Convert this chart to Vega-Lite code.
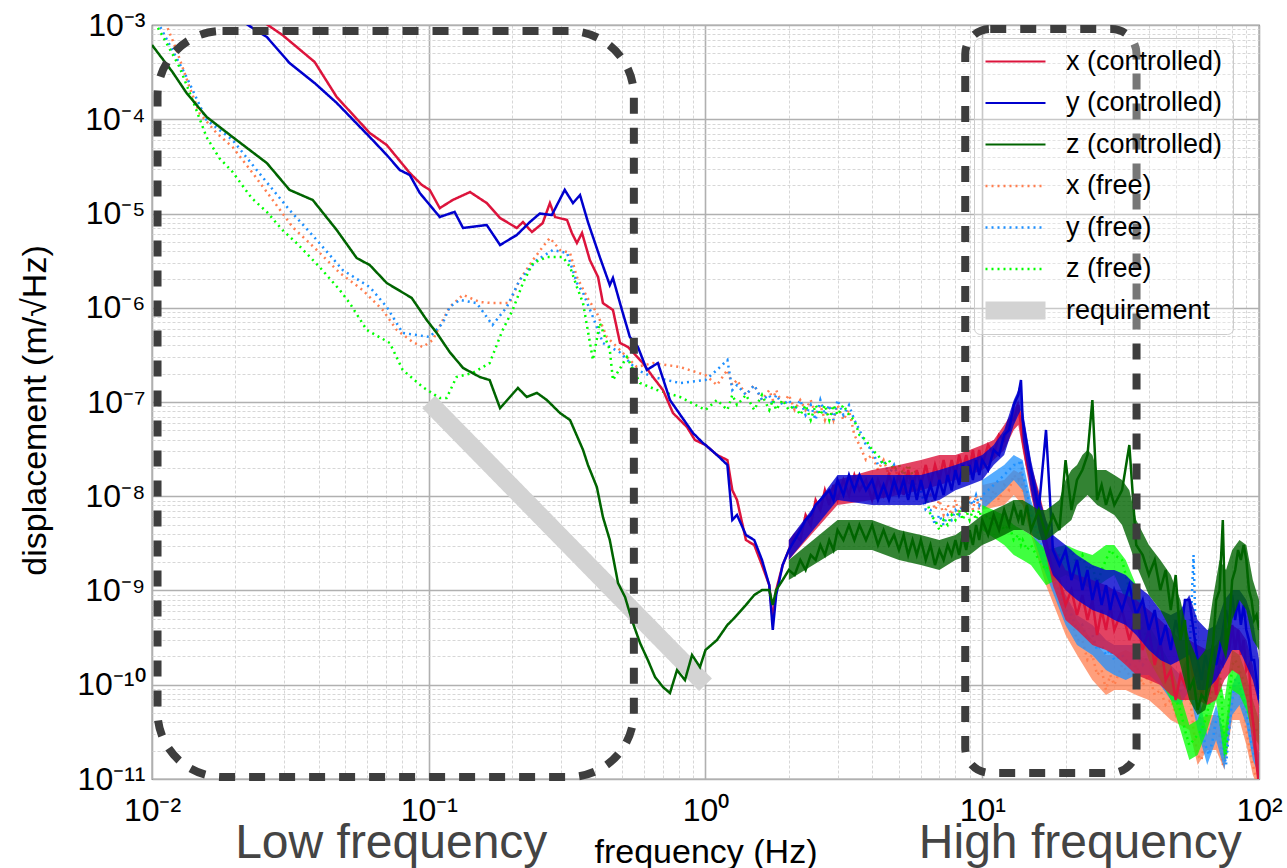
{
"$schema": "https://vega.github.io/schema/vega-lite/v6.json",
"width": 1107, "height": 754,
"autosize": {"type": "none"},
"padding": {"left": 152, "top": 25, "right": 28, "bottom": 89},
"background": "white",
"config": {
 "font": "Liberation Sans",
 "view": {"stroke": "#4a4a4a", "strokeWidth": 1.2},
 "legend": {"labelFontSize": 27, "labelColor": "#000", "labelLimit": 400, "symbolType": "M-1.714,0H6.857", "symbolSize": 196, "labelOffset": 55, "padding": 10, "rowPadding": 13.5, "strokeColor": "#cccccc", "fillColor": "rgba(255,255,255,0.3)", "cornerRadius": 6}
},
"encoding": {
 "x": {"field": "f", "type": "quantitative", "scale": {"type": "log", "domain": [0.01, 100], "nice": false},
  "axis": {"values": [0.01,0.02,0.03,0.04,0.05,0.06,0.07,0.08,0.09,0.1,0.2,0.3,0.4,0.5,0.6,0.7,0.8,0.9,1,2,3,4,5,6,7,8,9,10,20,30,40,50,60,70,80,90,100],
   "labelExpr": "abs(log(datum.value)/LN10 - round(log(datum.value)/LN10)) > 0.01 ? '' : ['10⁻²','10⁻¹','10⁰','10¹','10²'][round(log(datum.value)/LN10) + 2]",
   "grid": true,
   "gridColor": {"condition": {"test": "abs(log(datum.value)/LN10 - round(log(datum.value)/LN10)) < 0.01", "value": "#b0b0b0"}, "value": "#d2d2d2"},
   "gridWidth": {"condition": {"test": "abs(log(datum.value)/LN10 - round(log(datum.value)/LN10)) < 0.01", "value": 1.6}, "value": 0.9},
   "gridDash": {"condition": {"test": "abs(log(datum.value)/LN10 - round(log(datum.value)/LN10)) < 0.01", "value": [1, 0]}, "value": [3, 2]},
   "ticks": false, "tickSize": 0, "domain": false, "labelFontSize": 32, "labelColor": "#000", "labelPadding": 41, "labelBaseline": "alphabetic", "labelFlush": false, "labelOverlap": false, "labelBound": false,
   "title": "frequency (Hz)", "titleFontSize": 34, "titleFontWeight": "normal", "titleColor": "#000", "titleY": 83, "titleBaseline": "alphabetic"}},
 "y": {"field": "d", "type": "quantitative", "scale": {"type": "log", "domain": [1e-11, 1e-3], "nice": false},
  "axis": {"values": [1e-11,2e-11,3e-11,4e-11,5e-11,6e-11,7e-11,8e-11,9e-11,1e-10,2e-10,3e-10,4e-10,5e-10,6e-10,7e-10,8e-10,9e-10,1e-9,2e-9,3e-9,4e-9,5e-9,6e-9,7e-9,8e-9,9e-9,1e-8,2e-8,3e-8,4e-8,5e-8,6e-8,7e-8,8e-8,9e-8,1e-7,2e-7,3e-7,4e-7,5e-7,6e-7,7e-7,8e-7,9e-7,1e-6,2e-6,3e-6,4e-6,5e-6,6e-6,7e-6,8e-6,9e-6,1e-5,2e-5,3e-5,4e-5,5e-5,6e-5,7e-5,8e-5,9e-5,1e-4,2e-4,3e-4,4e-4,5e-4,6e-4,7e-4,8e-4,9e-4,1e-3],
   "labelExpr": "abs(log(datum.value)/LN10 - round(log(datum.value)/LN10)) > 0.01 ? '' : ['10⁻¹¹','10⁻¹⁰','10⁻⁹','10⁻⁸','10⁻⁷','10⁻⁶','10⁻⁵','10⁻⁴','10⁻³'][round(log(datum.value)/LN10) + 11]",
   "grid": true,
   "gridColor": {"condition": {"test": "abs(log(datum.value)/LN10 - round(log(datum.value)/LN10)) < 0.01", "value": "#b0b0b0"}, "value": "#d2d2d2"},
   "gridWidth": {"condition": {"test": "abs(log(datum.value)/LN10 - round(log(datum.value)/LN10)) < 0.01", "value": 1.6}, "value": 0.9},
   "gridDash": {"condition": {"test": "abs(log(datum.value)/LN10 - round(log(datum.value)/LN10)) < 0.01", "value": [1, 0]}, "value": [3, 2]},
   "ticks": false, "tickSize": 0, "domain": false, "labelFontSize": 32, "labelColor": "#000", "labelPadding": 7, "labelOverlap": false, "labelBound": false, "labelFlush": false,
   "title": "displacement (m/√Hz)", "titleFontSize": 34, "titleFontWeight": "normal", "titleColor": "#000", "titleX": -117, "titleY": 385, "titleAngle": 270, "titleBaseline": "middle"}}
},
"layer": [
 {"data": {"values": [{"f":0.1,"d":1e-7},{"f":1,"d":1e-10}]},
  "mark": {"type": "line", "strokeCap": "butt", "clip": true},
  "encoding": {
   "color": {"datum": "requirement", "type": "nominal", "scale": {"domain": ["x (controlled)","y (controlled)","z (controlled)","x (free)","y (free)","z (free)","requirement"], "range": ["#dc143c","#0000cd","#006400","#ff7f50","#1e90ff","#00ff00","#d3d3d3"]},
     "legend": {"title": null, "orient": "none", "legendX": 822, "legendY": 13,
       "encode": {"symbols": {"update": {
         "shape": {"signal": "datum.value == 'requirement' ? 'M-1.714,-1.29H6.857V1.29H-1.714Z' : 'M-1.714,0H6.857'"},
         "fill": {"signal": "datum.value == 'requirement' ? '#d3d3d3' : 'transparent'"},
         "strokeDash": {"signal": "(datum.value == 'x (free)' || datum.value == 'y (free)' || datum.value == 'z (free)') ? [2,4] : [1,0]"},
         "strokeWidth": {"signal": "datum.value == 'requirement' ? 0 : ((datum.value == 'x (free)' || datum.value == 'y (free)' || datum.value == 'z (free)') ? 2.6 : 2)"},
         "opacity": {"value": 1}}}}}},
   "strokeDash": {"datum": "requirement", "type": "nominal", "scale": {"domain": ["x (controlled)","y (controlled)","z (controlled)","x (free)","y (free)","z (free)","requirement"], "range": [[1,0],[1,0],[1,0],[2,4],[2,4],[2,4],[1,0]]}, "legend": null},
   "strokeWidth": {"datum": "requirement", "type": "nominal", "scale": {"type": "ordinal", "domain": ["x (controlled)","y (controlled)","z (controlled)","x (free)","y (free)","z (free)","requirement"], "range": [2,2,2,2.6,2.6,2.6,18]}, "legend": null}
  }},
 {"data": {"values": [{"f":10,"d":7.15e-9,"d2":1.32e-8},{"f":12,"d":8.08e-9,"d2":1.49e-8},{"f":13,"d":1.03e-8,"d2":1.9e-8},{"f":14,"d":8.08e-9,"d2":1.68e-8},{"f":15,"d":3.88e-9,"d2":8.08e-9},{"f":17,"d":1.14e-9,"d2":2.69e-9},{"f":20,"d":3.37e-10,"d2":8.96e-10},{"f":22,"d":2.07e-10,"d2":4.86e-10},{"f":25,"d":1.12e-10,"d2":2.98e-10},{"f":28,"d":7.79e-11,"d2":2.07e-10},{"f":30,"d":8.8e-11,"d2":2.07e-10},{"f":33,"d":8.8e-11,"d2":2.34e-10},{"f":36,"d":7.79e-11,"d2":2.07e-10},{"f":40,"d":6.89e-11,"d2":1.83e-10},{"f":44,"d":5.4e-11,"d2":1.27e-10},{"f":48,"d":4.23e-11,"d2":9.94e-11},{"f":52,"d":3.74e-11,"d2":8.8e-11},{"f":56,"d":3.31e-11,"d2":9.94e-11},{"f":60,"d":1.41e-11,"d2":4.23e-11},{"f":65,"d":2.03e-11,"d2":4.78e-11},{"f":70,"d":2.03e-11,"d2":4.78e-11},{"f":75,"d":1.25e-11,"d2":3.31e-11},{"f":80,"d":4.23e-11,"d2":9.94e-11},{"f":85,"d":4.23e-11,"d2":9.94e-11},{"f":90,"d":2.29e-11,"d2":5.4e-11},{"f":95,"d":1.1e-11,"d2":2.59e-11},{"f":100,"d":7.64e-12,"d2":1.25e-11}]},
  "mark": {"type": "area", "clip": true, "opacity": 0.75},
  "encoding": {"y2": {"field": "d2"}, "color": {"datum": "x (free)", "type": "nominal"}}},
 {"data": {"values": [{"f":0.01,"d":2.4e-3},{"f":0.01226,"d":5.43e-4},{"f":0.01366,"d":2.2e-4},{"f":0.01485,"d":1.16e-4},{"f":0.0171,"d":7.15e-5},{"f":0.01955,"d":5.07e-5},{"f":0.0231,"d":2.69e-5},{"f":0.0273,"d":1.39e-5},{"f":0.0322,"d":7.19e-6},{"f":0.0394,"d":4.1e-6},{"f":0.0477,"d":2.34e-6},{"f":0.0577,"d":1.54e-6},{"f":0.0682,"d":9.46e-7},{"f":0.0766,"d":5.81e-7},{"f":0.0875,"d":4.33e-7},{"f":0.0951,"d":3.83e-7},{"f":0.1034,"d":4.55e-7},{"f":0.1124,"d":7.41e-7},{"f":0.119,"d":1.02e-6},{"f":0.133,"d":1.37e-6},{"f":0.153,"d":1.15e-6},{"f":0.17,"d":1.12e-6},{"f":0.196,"d":1.12e-6},{"f":0.213,"d":1.97e-6},{"f":0.238,"d":3.21e-6},{"f":0.258,"d":4.41e-6},{"f":0.274,"d":5.5e-6},{"f":0.298,"d":4.1e-6},{"f":0.324,"d":3.81e-6},{"f":0.343,"d":2.12e-6},{"f":0.373,"d":1.3e-6},{"f":0.405,"d":8.8e-7},{"f":0.44,"d":4.89e-7},{"f":0.491,"d":3.56e-7},{"f":0.565,"d":2.35e-7},{"f":0.646,"d":2.59e-7},{"f":0.809,"d":2.35e-7},
  {"f":1,"d":1.93e-7},{"f":1.1,"d":1.51e-7},{"f":1.2,"d":2.19e-7},{"f":1.25,"d":1.51e-7},{"f":1.3,"d":1.71e-7},{"f":1.4,"d":1.19e-7},{"f":1.5,"d":1.51e-7},{"f":1.6,"d":1.05e-7},{"f":1.7,"d":1.34e-7},{"f":1.75,"d":1.05e-7},{"f":1.8,"d":1.34e-7},{"f":1.9,"d":9.29e-8},{"f":2,"d":1.19e-7},{"f":2.1,"d":8.23e-8},{"f":2.2,"d":1.05e-7},{"f":2.3,"d":8.23e-8},{"f":2.4,"d":1.05e-7},{"f":2.5,"d":7.28e-8},{"f":2.6,"d":9.29e-8},{"f":2.7,"d":6.44e-8},{"f":2.8,"d":9.29e-8},{"f":2.9,"d":6.44e-8},{"f":3,"d":9.29e-8},{"f":3.15,"d":6.44e-8},{"f":3.3,"d":8.23e-8},{"f":3.45,"d":4.47e-8},{"f":3.6,"d":3.5e-8},{"f":3.8,"d":2.42e-8},{"f":4,"d":2.74e-8},{"f":4.2,"d":1.9e-8},{"f":4.4,"d":2.42e-8},{"f":4.6,"d":1.68e-8},{"f":4.8,"d":2.15e-8},{"f":5,"d":1.49e-8},{"f":5.2,"d":1.9e-8},{"f":5.4,"d":1.32e-8},{"f":5.6,"d":1.68e-8},{"f":5.8,"d":1.16e-8},{"f":6,"d":1.32e-8},{"f":6.25,"d":9.12e-9},{"f":6.5,"d":1.03e-8},{"f":6.75,"d":7.15e-9},{"f":7,"d":9.12e-9},{"f":7.25,"d":6.33e-9},{"f":7.5,"d":8.08e-9},{"f":7.75,"d":6.33e-9},{"f":8,"d":9.12e-9},{"f":8.25,"d":6.33e-9},{"f":8.5,"d":9.12e-9},{"f":8.75,"d":7.15e-9},{"f":9,"d":1.03e-8},{"f":9.25,"d":7.15e-9},{"f":9.5,"d":1.03e-8},{"f":9.75,"d":7.15e-9},{"f":10,"d":1.03e-8},{"f":10.5,"d":8.08e-9},{"f":11,"d":1.16e-8},{"f":11.5,"d":9.12e-9},{"f":12,"d":1.32e-8},{"f":12.5,"d":1.16e-8},{"f":13,"d":1.68e-8},{"f":13.5,"d":1.49e-8},{"f":13.8,"d":1.9e-8},{"f":14,"d":1.16e-8},{"f":14.5,"d":9.12e-9},{"f":15,"d":5.6e-9},{"f":16,"d":3.43e-9},{"f":17,"d":1.86e-9},{"f":18,"d":1.14e-9},{"f":19,"d":8.96e-10},{"f":20,"d":5.5e-10},{"f":21,"d":4.86e-10},{"f":22,"d":2.98e-10},{"f":23,"d":2.98e-10},{"f":24,"d":1.83e-10},{"f":25,"d":2.07e-10},{"f":26,"d":1.27e-10},{"f":27,"d":1.43e-10},{"f":28,"d":8.8e-11},{"f":29,"d":1.27e-10},{"f":30,"d":9.94e-11},{"f":32,"d":1.62e-10},{"f":34,"d":1.27e-10},{"f":36,"d":1.62e-10},{"f":38,"d":9.94e-11},{"f":40,"d":1.27e-10},{"f":42,"d":7.79e-11},{"f":44,"d":8.8e-11},{"f":46,"d":6.1e-11},{"f":48,"d":6.89e-11},{"f":50,"d":4.78e-11},{"f":52,"d":6.1e-11},{"f":54,"d":6.89e-11},{"f":56,"d":8.8e-11},{"f":58,"d":3.31e-11},{"f":60,"d":1.8e-11},{"f":62,"d":1.59e-11},{"f":64,"d":2.93e-11},{"f":66,"d":3.31e-11},{"f":68,"d":4.23e-11},{"f":70,"d":2.93e-11},{"f":72,"d":2.93e-11},{"f":74,"d":1.41e-11},{"f":76,"d":2.29e-11},{"f":78,"d":4.23e-11},{"f":80,"d":6.89e-11},{"f":82,"d":7.79e-11},{"f":84,"d":8.8e-11},{"f":86,"d":6.89e-11},{"f":88,"d":5.4e-11},{"f":90,"d":3.31e-11},{"f":92,"d":2.29e-11},{"f":94,"d":1.59e-11},{"f":96,"d":1.25e-11},{"f":98,"d":9.76e-12},{"f":100,"d":8.64e-12}]},
  "mark": {"type": "line", "strokeCap": "butt", "clip": true},
  "encoding": {"color": {"datum": "x (free)", "type": "nominal"}, "strokeDash": {"datum": "x (free)", "type": "nominal", "legend": null}, "strokeWidth": {"datum": "x (free)", "type": "nominal", "legend": null}}},
 {"data": {"values": [{"f":10,"d":7.15e-9,"d2":1.49e-8},{"f":12,"d":1.16e-8,"d2":2.15e-8},{"f":13,"d":1.49e-8,"d2":2.74e-8},{"f":14,"d":1.16e-8,"d2":2.42e-8},{"f":15,"d":4.38e-9,"d2":9.12e-9},{"f":17,"d":1.46e-9,"d2":3.04e-9},{"f":20,"d":4.31e-10,"d2":8.96e-10},{"f":22,"d":2.64e-10,"d2":5.5e-10},{"f":25,"d":2.07e-10,"d2":4.31e-10},{"f":28,"d":1.43e-10,"d2":2.98e-10},{"f":30,"d":1.27e-10,"d2":2.64e-10},{"f":33,"d":1.12e-10,"d2":2.64e-10},{"f":36,"d":1.27e-10,"d2":2.64e-10},{"f":40,"d":1.27e-10,"d2":2.64e-10},{"f":44,"d":9.94e-11,"d2":2.07e-10},{"f":48,"d":6.89e-11,"d2":1.62e-10},{"f":52,"d":6.1e-11,"d2":1.27e-10},{"f":56,"d":8.8e-11,"d2":2.34e-10},{"f":60,"d":3.31e-11,"d2":8.8e-11},{"f":65,"d":1.41e-11,"d2":2.93e-11},{"f":70,"d":2.59e-11,"d2":6.1e-11},{"f":75,"d":1.25e-11,"d2":2.93e-11},{"f":80,"d":4.78e-11,"d2":9.94e-11},{"f":85,"d":6.1e-11,"d2":1.43e-10},{"f":90,"d":3.74e-11,"d2":6.89e-11},{"f":95,"d":1.59e-11,"d2":2.93e-11},{"f":100,"d":1.1e-11,"d2":1.8e-11}]},
  "mark": {"type": "area", "clip": true, "opacity": 0.75},
  "encoding": {"y2": {"field": "d2"}, "color": {"datum": "y (free)", "type": "nominal"}}},
 {"data": {"values": [{"f":0.01,"d":1.4e-3},{"f":0.01333,"d":2.81e-4},{"f":0.01574,"d":9.82e-5},{"f":0.01955,"d":6.02e-5},{"f":0.0239,"d":2.89e-5},{"f":0.0314,"d":1.09e-5},{"f":0.0394,"d":5.23e-6},{"f":0.0489,"d":2.51e-6},{"f":0.0612,"d":1.66e-6},{"f":0.0705,"d":1.02e-6},{"f":0.0805,"d":5.4e-7},{"f":0.0905,"d":5.14e-7},{"f":0.1008,"d":4.89e-7},{"f":0.1124,"d":6.89e-7},{"f":0.119,"d":1.02e-6},{"f":0.1295,"d":1.21e-6},{"f":0.149,"d":1.12e-6},{"f":0.17,"d":6.56e-7},{"f":0.1915,"d":1.02e-6},{"f":0.213,"d":1.97e-6},{"f":0.246,"d":3.21e-6},{"f":0.281,"d":4.1e-6},{"f":0.316,"d":3.81e-6},{"f":0.343,"d":1.83e-6},{"f":0.361,"d":1.44e-6},{"f":0.392,"d":7.98e-7},{"f":0.426,"d":4.23e-7},{"f":0.491,"d":3.36e-7},{"f":0.565,"d":2.19e-7},{"f":0.646,"d":1.84e-7},{"f":0.809,"d":1.59e-7},
  {"f":1,"d":1.71e-7},{"f":1.1,"d":2.19e-7},{"f":1.2,"d":2.79e-7},{"f":1.25,"d":1.34e-7},{"f":1.3,"d":1.51e-7},{"f":1.4,"d":1.19e-7},{"f":1.5,"d":1.51e-7},{"f":1.6,"d":1.05e-7},{"f":1.7,"d":1.19e-7},{"f":1.75,"d":9.29e-8},{"f":1.8,"d":1.19e-7},{"f":1.9,"d":9.29e-8},{"f":2,"d":1.05e-7},{"f":2.1,"d":8.23e-8},{"f":2.2,"d":1.05e-7},{"f":2.3,"d":7.28e-8},{"f":2.4,"d":9.29e-8},{"f":2.5,"d":6.44e-8},{"f":2.6,"d":1.05e-7},{"f":2.7,"d":7.28e-8},{"f":2.8,"d":9.29e-8},{"f":2.9,"d":6.44e-8},{"f":3,"d":1.05e-7},{"f":3.15,"d":7.28e-8},{"f":3.3,"d":9.29e-8},{"f":3.45,"d":6.44e-8},{"f":3.6,"d":5.05e-8},{"f":3.8,"d":3.5e-8},{"f":4,"d":3.1e-8},{"f":4.2,"d":2.15e-8},{"f":4.4,"d":2.42e-8},{"f":4.6,"d":1.68e-8},{"f":4.8,"d":2.15e-8},{"f":5,"d":1.49e-8},{"f":5.2,"d":1.9e-8},{"f":5.4,"d":1.49e-8},{"f":5.6,"d":1.68e-8},{"f":5.8,"d":1.16e-8},{"f":6,"d":1.16e-8},{"f":6.25,"d":7.15e-9},{"f":6.5,"d":7.15e-9},{"f":6.75,"d":4.95e-9},{"f":7,"d":6.33e-9},{"f":7.25,"d":4.95e-9},{"f":7.5,"d":6.33e-9},{"f":7.75,"d":5.6e-9},{"f":8,"d":7.15e-9},{"f":8.25,"d":6.33e-9},{"f":8.5,"d":8.08e-9},{"f":8.75,"d":7.15e-9},{"f":9,"d":9.12e-9},{"f":9.25,"d":8.08e-9},{"f":9.5,"d":1.03e-8},{"f":9.75,"d":8.08e-9},{"f":10,"d":1.03e-8},{"f":10.5,"d":1.16e-8},{"f":11,"d":1.32e-8},{"f":11.5,"d":1.49e-8},{"f":12,"d":1.68e-8},{"f":12.5,"d":1.9e-8},{"f":13,"d":2.15e-8},{"f":13.5,"d":2.15e-8},{"f":13.8,"d":2.42e-8},{"f":14,"d":1.68e-8},{"f":14.5,"d":1.16e-8},{"f":15,"d":6.33e-9},{"f":16,"d":3.88e-9},{"f":17,"d":2.11e-9},{"f":18,"d":1.29e-9},{"f":19,"d":1.01e-9},{"f":20,"d":6.21e-10},{"f":21,"d":5.5e-10},{"f":22,"d":3.81e-10},{"f":23,"d":4.31e-10},{"f":24,"d":2.98e-10},{"f":25,"d":3.37e-10},{"f":26,"d":2.34e-10},{"f":27,"d":2.64e-10},{"f":28,"d":2.07e-10},{"f":29,"d":2.34e-10},{"f":30,"d":1.83e-10},{"f":32,"d":2.07e-10},{"f":34,"d":1.62e-10},{"f":36,"d":2.07e-10},{"f":38,"d":1.62e-10},{"f":40,"d":2.07e-10},{"f":42,"d":1.43e-10},{"f":44,"d":1.62e-10},{"f":46,"d":1.12e-10},{"f":48,"d":1.12e-10},{"f":50,"d":7.79e-11},{"f":52,"d":8.8e-11},{"f":54,"d":1.12e-10},{"f":56,"d":1.83e-10},{"f":58,"d":2.38e-9},{"f":60,"d":6.89e-11},{"f":62,"d":3.31e-11},{"f":64,"d":2.29e-11},{"f":66,"d":1.8e-11},{"f":68,"d":2.59e-11},{"f":70,"d":4.23e-11},{"f":72,"d":4.78e-11},{"f":74,"d":2.29e-11},{"f":76,"d":1.41e-11},{"f":78,"d":3.31e-11},{"f":80,"d":6.89e-11},{"f":82,"d":1.12e-10},{"f":84,"d":1.12e-10},{"f":86,"d":8.8e-11},{"f":88,"d":6.89e-11},{"f":90,"d":5.4e-11},{"f":92,"d":3.31e-11},{"f":94,"d":2.29e-11},{"f":96,"d":1.8e-11},{"f":98,"d":1.59e-11},{"f":100,"d":1.41e-11}]},
  "mark": {"type": "line", "strokeCap": "butt", "clip": true},
  "encoding": {"color": {"datum": "y (free)", "type": "nominal"}, "strokeDash": {"datum": "y (free)", "type": "nominal", "legend": null}, "strokeWidth": {"datum": "y (free)", "type": "nominal", "legend": null}}},
 {"data": {"values": [{"f":10,"d":4.38e-9,"d2":8.08e-9},{"f":12,"d":3.04e-9,"d2":6.33e-9},{"f":13,"d":2.38e-9,"d2":4.95e-9},{"f":14,"d":2.11e-9,"d2":4.38e-9},{"f":15,"d":1.86e-9,"d2":3.88e-9},{"f":17,"d":1.14e-9,"d2":2.69e-9},{"f":20,"d":1.46e-9,"d2":3.04e-9},{"f":22,"d":1.29e-9,"d2":2.69e-9},{"f":25,"d":1.01e-9,"d2":2.38e-9},{"f":28,"d":1.29e-9,"d2":3.04e-9},{"f":30,"d":1.46e-9,"d2":3.04e-9},{"f":33,"d":7.93e-10,"d2":2.11e-9},{"f":36,"d":4.86e-10,"d2":1.14e-9},{"f":40,"d":1.83e-10,"d2":4.31e-10},{"f":44,"d":1.12e-10,"d2":2.64e-10},{"f":48,"d":6.89e-11,"d2":1.62e-10},{"f":52,"d":3.31e-11,"d2":7.79e-11},{"f":56,"d":1.59e-11,"d2":3.74e-11},{"f":60,"d":1.8e-11,"d2":4.23e-11},{"f":65,"d":3.31e-11,"d2":8.8e-11},{"f":70,"d":6.89e-11,"d2":1.83e-10},{"f":75,"d":1.59e-11,"d2":6.89e-11},{"f":80,"d":8.8e-11,"d2":2.34e-10},{"f":85,"d":7.79e-11,"d2":2.07e-10},{"f":90,"d":5.4e-11,"d2":1.27e-10},{"f":95,"d":2.93e-11,"d2":6.89e-11},{"f":100,"d":2.29e-11,"d2":4.23e-11}]},
  "mark": {"type": "area", "clip": true, "opacity": 0.75},
  "encoding": {"y2": {"field": "d2"}, "color": {"datum": "z (free)", "type": "nominal"}}},
 {"data": {"values": [{"f":0.01,"d":1.2e-3},{"f":0.01128,"d":6.44e-4},{"f":0.01257,"d":3.58e-4},{"f":0.01401,"d":1.6e-4},{"f":0.01574,"d":6.48e-5},{"f":0.0175,"d":3.88e-5},{"f":0.01955,"d":2.76e-5},{"f":0.0229,"d":1.46e-5},{"f":0.026,"d":1.04e-5},{"f":0.0296,"d":6.68e-6},{"f":0.0333,"d":4.86e-6},{"f":0.0403,"d":2.71e-6},{"f":0.0477,"d":1.54e-6},{"f":0.0518,"d":1.12e-6},{"f":0.0597,"d":5.81e-7},{"f":0.0723,"d":4.23e-7},{"f":0.0805,"d":2.19e-7},{"f":0.0951,"d":1.44e-7},{"f":0.1096,"d":1.1e-7},{"f":0.116,"d":1.1e-7},{"f":0.126,"d":1.84e-7},{"f":0.144,"d":2.03e-7},{"f":0.166,"d":2.59e-7},{"f":0.185,"d":5.81e-7},{"f":0.201,"d":9.46e-7},{"f":0.219,"d":1.83e-6},{"f":0.238,"d":2.98e-6},{"f":0.267,"d":3.45e-6},{"f":0.305,"d":3.45e-6},{"f":0.324,"d":2.71e-6},{"f":0.343,"d":1.66e-6},{"f":0.361,"d":1.12e-6},{"f":0.392,"d":2.79e-7},{"f":0.415,"d":6.89e-7},{"f":0.451,"d":3.56e-7},{"f":0.463,"d":1.71e-7},{"f":0.52,"d":3.0e-7},{"f":0.58,"d":1.59e-7},{"f":0.668,"d":1.34e-7},{"f":0.809,"d":1.13e-7},
  {"f":1,"d":8.23e-8},{"f":1.1,"d":1.05e-7},{"f":1.2,"d":8.23e-8},{"f":1.25,"d":1.19e-7},{"f":1.3,"d":9.29e-8},{"f":1.4,"d":1.19e-7},{"f":1.5,"d":8.23e-8},{"f":1.6,"d":1.19e-7},{"f":1.7,"d":8.23e-8},{"f":1.75,"d":1.05e-7},{"f":1.8,"d":8.23e-8},{"f":1.9,"d":1.05e-7},{"f":2,"d":8.23e-8},{"f":2.1,"d":9.29e-8},{"f":2.2,"d":7.28e-8},{"f":2.3,"d":9.29e-8},{"f":2.4,"d":6.44e-8},{"f":2.5,"d":9.29e-8},{"f":2.6,"d":7.28e-8},{"f":2.7,"d":9.29e-8},{"f":2.8,"d":6.44e-8},{"f":2.9,"d":9.29e-8},{"f":3,"d":7.28e-8},{"f":3.15,"d":9.29e-8},{"f":3.3,"d":7.28e-8},{"f":3.45,"d":6.44e-8},{"f":3.6,"d":4.47e-8},{"f":3.8,"d":3.95e-8},{"f":4,"d":3.1e-8},{"f":4.2,"d":2.74e-8},{"f":4.4,"d":2.15e-8},{"f":4.6,"d":2.42e-8},{"f":4.8,"d":1.9e-8},{"f":5,"d":2.15e-8},{"f":5.2,"d":1.68e-8},{"f":5.4,"d":2.15e-8},{"f":5.6,"d":1.68e-8},{"f":5.8,"d":1.9e-8},{"f":6,"d":1.32e-8},{"f":6.25,"d":1.03e-8},{"f":6.5,"d":6.33e-9},{"f":6.75,"d":5.6e-9},{"f":7,"d":4.38e-9},{"f":7.25,"d":5.6e-9},{"f":7.5,"d":4.95e-9},{"f":7.75,"d":6.33e-9},{"f":8,"d":5.6e-9},{"f":8.25,"d":7.15e-9},{"f":8.5,"d":5.6e-9},{"f":8.75,"d":7.15e-9},{"f":9,"d":5.6e-9},{"f":9.25,"d":7.15e-9},{"f":9.5,"d":5.6e-9},{"f":9.75,"d":7.15e-9},{"f":10,"d":5.6e-9},{"f":10.5,"d":6.33e-9},{"f":11,"d":4.95e-9},{"f":11.5,"d":5.6e-9},{"f":12,"d":4.38e-9},{"f":12.5,"d":4.95e-9},{"f":13,"d":3.43e-9},{"f":13.5,"d":3.88e-9},{"f":13.8,"d":3.04e-9},{"f":14,"d":3.43e-9},{"f":14.5,"d":2.69e-9},{"f":15,"d":3.04e-9},{"f":16,"d":2.11e-9},{"f":17,"d":1.65e-9},{"f":18,"d":2.11e-9},{"f":19,"d":2.38e-9},{"f":20,"d":2.11e-9},{"f":21,"d":2.69e-9},{"f":22,"d":1.86e-9},{"f":23,"d":2.38e-9},{"f":24,"d":1.65e-9},{"f":25,"d":1.86e-9},{"f":26,"d":1.14e-9},{"f":27,"d":1.65e-9},{"f":28,"d":2.11e-9},{"f":29,"d":2.69e-9},{"f":30,"d":2.38e-9},{"f":32,"d":2.11e-9},{"f":34,"d":1.01e-9},{"f":36,"d":7.93e-10},{"f":38,"d":3.81e-10},{"f":40,"d":2.98e-10},{"f":42,"d":2.07e-10},{"f":44,"d":1.83e-10},{"f":46,"d":1.43e-10},{"f":48,"d":1.12e-10},{"f":50,"d":6.89e-11},{"f":52,"d":5.4e-11},{"f":54,"d":3.31e-11},{"f":56,"d":2.29e-11},{"f":58,"d":2.59e-11},{"f":60,"d":2.93e-11},{"f":62,"d":3.31e-11},{"f":64,"d":4.23e-11},{"f":66,"d":6.1e-11},{"f":68,"d":8.8e-11},{"f":70,"d":1.27e-10},{"f":72,"d":1.62e-10},{"f":74,"d":4.23e-11},{"f":76,"d":1.8e-11},{"f":78,"d":6.89e-11},{"f":80,"d":1.62e-10},{"f":82,"d":1.83e-10},{"f":84,"d":1.62e-10},{"f":86,"d":1.27e-10},{"f":88,"d":1.12e-10},{"f":90,"d":8.8e-11},{"f":92,"d":6.1e-11},{"f":94,"d":4.78e-11},{"f":96,"d":3.74e-11},{"f":98,"d":3.31e-11},{"f":100,"d":2.93e-11}]},
  "mark": {"type": "line", "strokeCap": "butt", "clip": true},
  "encoding": {"color": {"datum": "z (free)", "type": "nominal"}, "strokeDash": {"datum": "z (free)", "type": "nominal", "legend": null}, "strokeWidth": {"datum": "z (free)", "type": "nominal", "legend": null}}},
 {"data": {"values": [{"f":2,"d":2.11e-9,"d2":3.43e-9},{"f":3,"d":8.08e-9,"d2":1.49e-8},{"f":4,"d":9.12e-9,"d2":1.9e-8},{"f":5,"d":1.03e-8,"d2":2.15e-8},{"f":6,"d":1.16e-8,"d2":2.42e-8},{"f":7,"d":1.32e-8,"d2":2.74e-8},{"f":8,"d":1.49e-8,"d2":2.74e-8},{"f":9,"d":1.68e-8,"d2":3.1e-8},{"f":10,"d":1.9e-8,"d2":3.5e-8},{"f":11,"d":2.42e-8,"d2":3.95e-8},{"f":12,"d":3.1e-8,"d2":5.7e-8},{"f":13,"d":5.05e-8,"d2":8.23e-8},{"f":13.5,"d":5.7e-8,"d2":1.05e-7},{"f":14,"d":3.1e-8,"d2":6.44e-8},{"f":15,"d":1.03e-8,"d2":2.15e-8},{"f":16,"d":4.38e-9,"d2":1.16e-8},{"f":17,"d":2.38e-9,"d2":5.6e-9},{"f":18,"d":1.14e-9,"d2":3.04e-9},{"f":20,"d":4.86e-10,"d2":1.65e-9},{"f":22,"d":3.81e-10,"d2":1.46e-9},{"f":25,"d":2.64e-10,"d2":1.29e-9},{"f":28,"d":2.34e-10,"d2":1.14e-9},{"f":30,"d":2.07e-10,"d2":1.01e-9},{"f":33,"d":1.62e-10,"d2":8.96e-10},{"f":36,"d":1.27e-10,"d2":7.93e-10},{"f":40,"d":1.12e-10,"d2":6.21e-10},{"f":44,"d":9.94e-11,"d2":4.86e-10},{"f":48,"d":7.79e-11,"d2":3.81e-10},{"f":52,"d":6.89e-11,"d2":2.98e-10},{"f":56,"d":6.89e-11,"d2":2.98e-10},{"f":60,"d":6.89e-11,"d2":2.64e-10},{"f":65,"d":6.1e-11,"d2":2.34e-10},{"f":70,"d":6.89e-11,"d2":2.64e-10},{"f":75,"d":1.12e-10,"d2":3.81e-10},{"f":80,"d":1.43e-10,"d2":4.31e-10},{"f":85,"d":1.27e-10,"d2":3.81e-10},{"f":90,"d":6.89e-11,"d2":2.98e-10},{"f":95,"d":2.29e-11,"d2":1.62e-10},{"f":100,"d":8.64e-12,"d2":6.89e-11}]},
  "mark": {"type": "area", "clip": true, "opacity": 0.8},
  "encoding": {"y2": {"field": "d2"}, "color": {"datum": "x (controlled)", "type": "nominal"}}},
 {"data": {"values": [{"f":0.0207,"d":1.67e-3},{"f":0.0262,"d":1.0e-3},{"f":0.0296,"d":7.83e-4},{"f":0.0387,"d":4.05e-4},{"f":0.0465,"d":1.72e-4},{"f":0.0612,"d":7.15e-5},{"f":0.0705,"d":5.33e-5},{"f":0.0854,"d":2.69e-5},{"f":0.0944,"d":2.01e-5},{"f":0.1008,"d":1.78e-5},{"f":0.1096,"d":1.14e-5},{"f":0.122,"d":1.39e-5},{"f":0.141,"d":1.69e-5},{"f":0.162,"d":1.29e-5},{"f":0.181,"d":8.96e-6},{"f":0.208,"d":7.02e-6},{"f":0.219,"d":8.12e-6},{"f":0.236,"d":6.36e-6},{"f":0.258,"d":7.9e-6},{"f":0.274,"d":1.29e-5},{"f":0.286,"d":9.18e-6},{"f":0.316,"d":8.53e-6},{"f":0.329,"d":6.21e-6},{"f":0.343,"d":4.86e-6},{"f":0.358,"d":6.21e-6},{"f":0.382,"d":3.21e-6},{"f":0.409,"d":2.12e-6},{"f":0.426,"d":1.12e-6},{"f":0.463,"d":9.46e-7},{"f":0.491,"d":4.23e-7},{"f":0.525,"d":3.83e-7},{"f":0.594,"d":2.59e-7},{"f":0.646,"d":1.84e-7},{"f":0.702,"d":1.34e-7},{"f":0.763,"d":7.64e-8},{"f":0.857,"d":5.43e-8},{"f":0.916,"d":3.95e-8},
  {"f":1,"d":3.5e-8},{"f":1.1,"d":2.74e-8},{"f":1.2,"d":2.42e-8},{"f":1.25,"d":1.16e-8},{"f":1.3,"d":9.12e-9},{"f":1.4,"d":3.43e-9},{"f":1.5,"d":3.04e-9},{"f":1.6,"d":1.86e-9},{"f":1.7,"d":1.14e-9},{"f":1.75,"d":4.86e-10},{"f":1.8,"d":1.01e-9},{"f":1.9,"d":1.86e-9},{"f":2,"d":2.69e-9},{"f":2.1,"d":3.88e-9},{"f":2.2,"d":3.43e-9},{"f":2.3,"d":6.33e-9},{"f":2.4,"d":4.95e-9},{"f":2.5,"d":9.12e-9},{"f":2.6,"d":7.15e-9},{"f":2.7,"d":1.16e-8},{"f":2.8,"d":8.08e-9},{"f":2.9,"d":1.32e-8},{"f":3,"d":9.12e-9},{"f":3.15,"d":1.49e-8},{"f":3.3,"d":1.03e-8},{"f":3.45,"d":1.68e-8},{"f":3.6,"d":1.16e-8},{"f":3.8,"d":1.49e-8},{"f":4,"d":9.12e-9},{"f":4.2,"d":1.49e-8},{"f":4.4,"d":1.03e-8},{"f":4.6,"d":1.68e-8},{"f":4.8,"d":1.16e-8},{"f":5,"d":1.68e-8},{"f":5.2,"d":1.03e-8},{"f":5.4,"d":1.9e-8},{"f":5.6,"d":1.16e-8},{"f":5.8,"d":1.9e-8},{"f":6,"d":1.32e-8},{"f":6.25,"d":2.15e-8},{"f":6.5,"d":1.32e-8},{"f":6.75,"d":2.15e-8},{"f":7,"d":1.49e-8},{"f":7.25,"d":2.42e-8},{"f":7.5,"d":1.49e-8},{"f":7.75,"d":2.42e-8},{"f":8,"d":1.68e-8},{"f":8.25,"d":2.74e-8},{"f":8.5,"d":1.9e-8},{"f":8.75,"d":2.74e-8},{"f":9,"d":1.9e-8},{"f":9.25,"d":3.1e-8},{"f":9.5,"d":1.9e-8},{"f":9.75,"d":3.1e-8},{"f":10,"d":2.15e-8},{"f":10.5,"d":3.5e-8},{"f":11,"d":2.74e-8},{"f":11.5,"d":4.47e-8},{"f":12,"d":3.95e-8},{"f":12.5,"d":6.44e-8},{"f":13,"d":6.44e-8},{"f":13.5,"d":9.29e-8},{"f":13.8,"d":5.7e-8},{"f":14,"d":3.95e-8},{"f":14.5,"d":2.15e-8},{"f":15,"d":1.49e-8},{"f":16,"d":5.6e-9},{"f":17,"d":3.43e-9},{"f":18,"d":1.46e-9},{"f":19,"d":1.29e-9},{"f":20,"d":7.02e-10},{"f":21,"d":1.01e-9},{"f":22,"d":5.5e-10},{"f":23,"d":8.96e-10},{"f":24,"d":4.86e-10},{"f":25,"d":7.93e-10},{"f":26,"d":3.37e-10},{"f":27,"d":6.21e-10},{"f":28,"d":3.81e-10},{"f":29,"d":7.02e-10},{"f":30,"d":3.81e-10},{"f":32,"d":6.21e-10},{"f":34,"d":2.98e-10},{"f":36,"d":5.5e-10},{"f":38,"d":2.34e-10},{"f":40,"d":3.81e-10},{"f":42,"d":1.62e-10},{"f":44,"d":2.98e-10},{"f":46,"d":1.12e-10},{"f":48,"d":1.43e-10},{"f":50,"d":6.89e-11},{"f":52,"d":1.27e-10},{"f":54,"d":9.94e-11},{"f":56,"d":2.34e-10},{"f":58,"d":1.12e-10},{"f":60,"d":1.62e-10},{"f":62,"d":6.89e-11},{"f":64,"d":1.43e-10},{"f":66,"d":7.79e-11},{"f":68,"d":1.62e-10},{"f":70,"d":7.79e-11},{"f":72,"d":1.83e-10},{"f":74,"d":1.62e-10},{"f":76,"d":2.98e-10},{"f":78,"d":2.34e-10},{"f":80,"d":4.31e-10},{"f":82,"d":2.34e-10},{"f":84,"d":3.81e-10},{"f":86,"d":2.07e-10},{"f":88,"d":2.98e-10},{"f":90,"d":1.43e-10},{"f":92,"d":1.62e-10},{"f":94,"d":5.4e-11},{"f":96,"d":3.31e-11},{"f":98,"d":1.41e-11},{"f":100,"d":8.64e-12}]},
  "mark": {"type": "line", "clip": true},
  "encoding": {"color": {"datum": "x (controlled)", "type": "nominal"}, "strokeDash": {"datum": "x (controlled)", "type": "nominal", "legend": null}, "strokeWidth": {"datum": "x (controlled)", "type": "nominal", "legend": null}}},
 {"data": {"values": [{"f":2,"d":2.11e-9,"d2":3.43e-9},{"f":3,"d":9.12e-9,"d2":1.68e-8},{"f":4,"d":8.08e-9,"d2":1.68e-8},{"f":5,"d":8.08e-9,"d2":1.68e-8},{"f":6,"d":8.08e-9,"d2":1.68e-8},{"f":7,"d":9.12e-9,"d2":1.9e-8},{"f":8,"d":1.16e-8,"d2":2.15e-8},{"f":9,"d":1.32e-8,"d2":2.42e-8},{"f":10,"d":1.49e-8,"d2":2.74e-8},{"f":11,"d":2.15e-8,"d2":3.5e-8},{"f":12,"d":2.74e-8,"d2":5.05e-8},{"f":13,"d":5.7e-8,"d2":1.05e-7},{"f":13.5,"d":7.28e-8,"d2":1.34e-7},{"f":13.8,"d":8.23e-8,"d2":1.71e-7},{"f":14,"d":3.95e-8,"d2":8.23e-8},{"f":15,"d":1.16e-8,"d2":2.42e-8},{"f":16,"d":4.38e-9,"d2":1.03e-8},{"f":17,"d":2.38e-9,"d2":5.6e-9},{"f":18,"d":1.46e-9,"d2":3.88e-9},{"f":20,"d":1.01e-9,"d2":3.04e-9},{"f":22,"d":7.93e-10,"d2":2.38e-9},{"f":25,"d":6.21e-10,"d2":1.86e-9},{"f":28,"d":5.5e-10,"d2":1.65e-9},{"f":30,"d":4.86e-10,"d2":1.65e-9},{"f":33,"d":4.31e-10,"d2":1.46e-9},{"f":36,"d":3.37e-10,"d2":1.14e-9},{"f":40,"d":2.34e-10,"d2":8.96e-10},{"f":44,"d":1.83e-10,"d2":6.21e-10},{"f":48,"d":1.62e-10,"d2":5.5e-10},{"f":52,"d":1.83e-10,"d2":6.21e-10},{"f":56,"d":2.07e-10,"d2":8.96e-10},{"f":60,"d":8.8e-11,"d2":4.86e-10},{"f":65,"d":8.8e-11,"d2":3.81e-10},{"f":70,"d":1.12e-10,"d2":4.31e-10},{"f":75,"d":1.62e-10,"d2":7.93e-10},{"f":80,"d":2.34e-10,"d2":1.01e-9},{"f":85,"d":2.34e-10,"d2":1.01e-9},{"f":90,"d":1.62e-10,"d2":7.93e-10},{"f":95,"d":1.12e-10,"d2":4.86e-10},{"f":100,"d":6.1e-11,"d2":1.83e-10}]},
  "mark": {"type": "area", "clip": true, "opacity": 0.8},
  "encoding": {"y2": {"field": "d2"}, "color": {"datum": "y (controlled)", "type": "nominal"}}},
 {"data": {"values": [{"f":0.0175,"d":1.84e-3},{"f":0.0222,"d":1.0e-3},{"f":0.026,"d":7.46e-4},{"f":0.0314,"d":3.95e-4},{"f":0.0387,"d":2.42e-4},{"f":0.0465,"d":1.49e-4},{"f":0.0612,"d":6.48e-5},{"f":0.0705,"d":4.18e-5},{"f":0.0786,"d":2.89e-5},{"f":0.0854,"d":2.56e-5},{"f":0.0928,"d":1.65e-5},{"f":0.1096,"d":9.18e-6},{"f":0.124,"d":1.04e-5},{"f":0.133,"d":7.02e-6},{"f":0.162,"d":7.55e-6},{"f":0.181,"d":4.63e-6},{"f":0.208,"d":5.91e-6},{"f":0.232,"d":8.12e-6},{"f":0.252,"d":1.0e-5},{"f":0.2785,"d":9.64e-6},{"f":0.31,"d":1.78e-5},{"f":0.332,"d":1.29e-5},{"f":0.352,"d":1.57e-5},{"f":0.376,"d":8.12e-6},{"f":0.415,"d":3.45e-6},{"f":0.451,"d":1.74e-6},{"f":0.463,"d":2.07e-6},{"f":0.499,"d":9.46e-7},{"f":0.533,"d":4.89e-7},{"f":0.57,"d":3.83e-7},{"f":0.614,"d":2.19e-7},{"f":0.673,"d":2.59e-7},{"f":0.744,"d":1.05e-7},{"f":0.901,"d":4.69e-8},{"f":0.979,"d":3.67e-8},
  {"f":1,"d":3.5e-8},{"f":1.1,"d":2.74e-8},{"f":1.2,"d":2.15e-8},{"f":1.25,"d":5.6e-9},{"f":1.3,"d":6.33e-9},{"f":1.4,"d":3.88e-9},{"f":1.5,"d":3.43e-9},{"f":1.6,"d":2.11e-9},{"f":1.7,"d":1.14e-9},{"f":1.75,"d":3.81e-10},{"f":1.8,"d":8.96e-10},{"f":1.9,"d":1.86e-9},{"f":2,"d":2.69e-9},{"f":2.1,"d":3.43e-9},{"f":2.2,"d":4.38e-9},{"f":2.3,"d":5.6e-9},{"f":2.4,"d":6.33e-9},{"f":2.5,"d":8.08e-9},{"f":2.6,"d":9.12e-9},{"f":2.7,"d":1.03e-8},{"f":2.8,"d":1.16e-8},{"f":2.9,"d":9.12e-9},{"f":3,"d":1.49e-8},{"f":3.15,"d":1.03e-8},{"f":3.3,"d":1.68e-8},{"f":3.45,"d":1.16e-8},{"f":3.6,"d":1.68e-8},{"f":3.8,"d":1.16e-8},{"f":4,"d":1.49e-8},{"f":4.2,"d":9.12e-9},{"f":4.4,"d":1.32e-8},{"f":4.6,"d":9.12e-9},{"f":4.8,"d":1.49e-8},{"f":5,"d":1.03e-8},{"f":5.2,"d":1.49e-8},{"f":5.4,"d":9.12e-9},{"f":5.6,"d":1.49e-8},{"f":5.8,"d":9.12e-9},{"f":6,"d":1.49e-8},{"f":6.25,"d":9.12e-9},{"f":6.5,"d":1.32e-8},{"f":6.75,"d":9.12e-9},{"f":7,"d":1.49e-8},{"f":7.25,"d":1.03e-8},{"f":7.5,"d":1.68e-8},{"f":7.75,"d":1.16e-8},{"f":8,"d":1.9e-8},{"f":8.25,"d":1.32e-8},{"f":8.5,"d":2.15e-8},{"f":8.75,"d":1.49e-8},{"f":9,"d":2.15e-8},{"f":9.25,"d":1.49e-8},{"f":9.5,"d":2.42e-8},{"f":9.75,"d":1.68e-8},{"f":10,"d":2.42e-8},{"f":10.5,"d":1.9e-8},{"f":11,"d":3.1e-8},{"f":11.5,"d":2.74e-8},{"f":12,"d":4.47e-8},{"f":12.5,"d":5.05e-8},{"f":13,"d":9.29e-8},{"f":13.5,"d":1.19e-7},{"f":13.8,"d":1.71e-7},{"f":14,"d":6.44e-8},{"f":14.5,"d":3.5e-8},{"f":15,"d":1.9e-8},{"f":16,"d":7.15e-9},{"f":17,"d":5.05e-8},{"f":18,"d":2.69e-9},{"f":19,"d":1.86e-9},{"f":20,"d":2.69e-9},{"f":21,"d":1.29e-9},{"f":22,"d":2.11e-9},{"f":23,"d":1.01e-9},{"f":24,"d":1.65e-9},{"f":25,"d":7.93e-10},{"f":26,"d":1.29e-9},{"f":27,"d":7.02e-10},{"f":28,"d":1.14e-9},{"f":29,"d":6.21e-10},{"f":30,"d":1.01e-9},{"f":32,"d":6.21e-10},{"f":34,"d":1.14e-9},{"f":36,"d":5.5e-10},{"f":38,"d":7.93e-10},{"f":40,"d":3.81e-10},{"f":42,"d":6.21e-10},{"f":44,"d":2.64e-10},{"f":46,"d":4.31e-10},{"f":48,"d":2.34e-10},{"f":50,"d":4.86e-10},{"f":52,"d":2.98e-10},{"f":54,"d":7.93e-10},{"f":56,"d":7.93e-10},{"f":58,"d":3.81e-10},{"f":60,"d":1.83e-10},{"f":62,"d":1.12e-10},{"f":64,"d":2.07e-10},{"f":66,"d":1.43e-10},{"f":68,"d":2.64e-10},{"f":70,"d":1.62e-10},{"f":72,"d":2.34e-10},{"f":74,"d":3.81e-10},{"f":76,"d":6.21e-10},{"f":78,"d":4.31e-10},{"f":80,"d":8.96e-10},{"f":82,"d":4.86e-10},{"f":84,"d":7.93e-10},{"f":86,"d":4.31e-10},{"f":88,"d":7.02e-10},{"f":90,"d":3.81e-10},{"f":92,"d":2.98e-10},{"f":94,"d":1.83e-10},{"f":96,"d":1.83e-10},{"f":98,"d":1.12e-10},{"f":100,"d":6.89e-11}]},
  "mark": {"type": "line", "clip": true},
  "encoding": {"color": {"datum": "y (controlled)", "type": "nominal"}, "strokeDash": {"datum": "y (controlled)", "type": "nominal", "legend": null}, "strokeWidth": {"datum": "y (controlled)", "type": "nominal", "legend": null}}},
 {"data": {"values": [{"f":2,"d":1.29e-9,"d2":2.11e-9},{"f":3,"d":2.69e-9,"d2":5.6e-9},{"f":4,"d":2.69e-9,"d2":5.6e-9},{"f":5,"d":2.11e-9,"d2":4.38e-9},{"f":6,"d":1.86e-9,"d2":3.88e-9},{"f":7,"d":1.65e-9,"d2":3.43e-9},{"f":8,"d":2.11e-9,"d2":3.88e-9},{"f":9,"d":2.38e-9,"d2":4.95e-9},{"f":10,"d":3.04e-9,"d2":6.33e-9},{"f":11,"d":3.43e-9,"d2":7.15e-9},{"f":12,"d":3.88e-9,"d2":8.08e-9},{"f":13,"d":4.38e-9,"d2":9.12e-9},{"f":14,"d":4.38e-9,"d2":9.12e-9},{"f":15,"d":3.88e-9,"d2":8.08e-9},{"f":16,"d":3.43e-9,"d2":7.15e-9},{"f":17,"d":3.43e-9,"d2":7.15e-9},{"f":18,"d":3.88e-9,"d2":8.08e-9},{"f":19,"d":4.38e-9,"d2":9.12e-9},{"f":20,"d":4.95e-9,"d2":1.49e-8},{"f":21,"d":5.6e-9,"d2":1.9e-8},{"f":22,"d":8.08e-9,"d2":2.15e-8},{"f":23,"d":9.12e-9,"d2":2.74e-8},{"f":24,"d":1.03e-8,"d2":3.1e-8},{"f":25,"d":9.12e-9,"d2":2.74e-8},{"f":26,"d":8.08e-9,"d2":1.9e-8},{"f":28,"d":7.15e-9,"d2":1.9e-8},{"f":30,"d":6.33e-9,"d2":1.68e-8},{"f":32,"d":4.95e-9,"d2":1.49e-8},{"f":34,"d":3.04e-9,"d2":1.16e-8},{"f":36,"d":1.86e-9,"d2":5.6e-9},{"f":40,"d":8.96e-10,"d2":3.04e-9},{"f":44,"d":6.21e-10,"d2":2.11e-9},{"f":48,"d":3.81e-10,"d2":1.46e-9},{"f":52,"d":1.62e-10,"d2":7.93e-10},{"f":56,"d":6.89e-11,"d2":2.98e-10},{"f":60,"d":4.78e-11,"d2":1.83e-10},{"f":64,"d":5.4e-11,"d2":2.34e-10},{"f":68,"d":1.12e-10,"d2":7.93e-10},{"f":72,"d":2.98e-10,"d2":2.11e-9},{"f":76,"d":1.83e-10,"d2":1.65e-9},{"f":80,"d":4.86e-10,"d2":2.69e-9},{"f":85,"d":7.93e-10,"d2":3.43e-9},{"f":90,"d":6.21e-10,"d2":3.04e-9},{"f":95,"d":2.98e-10,"d2":1.29e-9},{"f":100,"d":2.34e-10,"d2":7.93e-10}]},
  "mark": {"type": "area", "clip": true, "opacity": 0.8},
  "encoding": {"y2": {"field": "d2"}, "color": {"datum": "z (controlled)", "type": "nominal"}}},
 {"data": {"values": [{"f":0.01,"d":6.13e-4},{"f":0.01186,"d":3.17e-4},{"f":0.01333,"d":1.9e-4},{"f":0.01574,"d":1.06e-4},{"f":0.01955,"d":6.48e-5},{"f":0.026,"d":3.43e-5},{"f":0.0314,"d":1.78e-5},{"f":0.0381,"d":1.39e-5},{"f":0.0465,"d":6.68e-6},{"f":0.0549,"d":3.37e-6},{"f":0.0612,"d":2.84e-6},{"f":0.0705,"d":1.83e-6},{"f":0.0868,"d":1.27e-6},{"f":0.0983,"d":7.41e-7},{"f":0.1069,"d":5.4e-7},{"f":0.119,"d":3.39e-7},{"f":0.133,"d":2.3e-7},{"f":0.153,"d":1.84e-7},{"f":0.166,"d":1.71e-7},{"f":0.181,"d":8.6e-8},{"f":0.21,"d":1.41e-7},{"f":0.226,"d":1.13e-7},{"f":0.246,"d":1.25e-7},{"f":0.267,"d":1.05e-7},{"f":0.298,"d":7.64e-8},{"f":0.324,"d":6.44e-8},{"f":0.361,"d":3.1e-8},{"f":0.376,"d":2.15e-8},{"f":0.405,"d":1.25e-8},{"f":0.426,"d":6.02e-9},{"f":0.451,"d":3.43e-9},{"f":0.483,"d":1.2e-9},{"f":0.512,"d":8.53e-10},{"f":0.542,"d":4.86e-10},{"f":0.58,"d":2.77e-10},{"f":0.619,"d":1.83e-10},{"f":0.657,"d":1.21e-10},{"f":0.702,"d":9.46e-11},{"f":0.744,"d":8.17e-11},{"f":0.789,"d":1.43e-10},{"f":0.843,"d":1.12e-10},{"f":0.894,"d":2.07e-10},{"f":0.955,"d":1.54e-10},
  {"f":1,"d":2.34e-10},{"f":1.1,"d":2.98e-10},{"f":1.2,"d":4.31e-10},{"f":1.25,"d":4.86e-10},{"f":1.3,"d":5.5e-10},{"f":1.4,"d":7.02e-10},{"f":1.5,"d":8.96e-10},{"f":1.6,"d":1.01e-9},{"f":1.7,"d":1.01e-9},{"f":1.75,"d":7.02e-10},{"f":1.8,"d":1.01e-9},{"f":1.9,"d":1.29e-9},{"f":2,"d":1.65e-9},{"f":2.1,"d":1.46e-9},{"f":2.2,"d":2.11e-9},{"f":2.3,"d":1.65e-9},{"f":2.4,"d":2.38e-9},{"f":2.5,"d":2.11e-9},{"f":2.6,"d":3.04e-9},{"f":2.7,"d":2.38e-9},{"f":2.8,"d":3.43e-9},{"f":2.9,"d":2.69e-9},{"f":3,"d":4.38e-9},{"f":3.15,"d":3.43e-9},{"f":3.3,"d":4.95e-9},{"f":3.45,"d":3.43e-9},{"f":3.6,"d":4.95e-9},{"f":3.8,"d":3.43e-9},{"f":4,"d":4.95e-9},{"f":4.2,"d":3.04e-9},{"f":4.4,"d":4.38e-9},{"f":4.6,"d":3.04e-9},{"f":4.8,"d":3.88e-9},{"f":5,"d":2.69e-9},{"f":5.2,"d":3.88e-9},{"f":5.4,"d":2.38e-9},{"f":5.6,"d":3.43e-9},{"f":5.8,"d":2.38e-9},{"f":6,"d":3.43e-9},{"f":6.25,"d":2.11e-9},{"f":6.5,"d":3.04e-9},{"f":6.75,"d":1.86e-9},{"f":7,"d":2.69e-9},{"f":7.25,"d":2.11e-9},{"f":7.5,"d":3.04e-9},{"f":7.75,"d":2.38e-9},{"f":8,"d":3.43e-9},{"f":8.25,"d":2.38e-9},{"f":8.5,"d":3.88e-9},{"f":8.75,"d":2.69e-9},{"f":9,"d":4.38e-9},{"f":9.25,"d":3.04e-9},{"f":9.5,"d":4.95e-9},{"f":9.75,"d":3.43e-9},{"f":10,"d":5.6e-9},{"f":10.5,"d":3.88e-9},{"f":11,"d":6.33e-9},{"f":11.5,"d":4.38e-9},{"f":12,"d":7.15e-9},{"f":12.5,"d":4.95e-9},{"f":13,"d":8.08e-9},{"f":13.5,"d":5.6e-9},{"f":13.8,"d":7.15e-9},{"f":14,"d":4.95e-9},{"f":14.5,"d":8.08e-9},{"f":15,"d":4.38e-9},{"f":16,"d":7.15e-9},{"f":17,"d":3.88e-9},{"f":18,"d":6.33e-9},{"f":19,"d":4.38e-9},{"f":20,"d":2.42e-8},{"f":21,"d":7.15e-9},{"f":22,"d":1.49e-8},{"f":23,"d":1.9e-8},{"f":24,"d":2.74e-8},{"f":25,"d":1.05e-7},{"f":26,"d":9.12e-9},{"f":27,"d":1.32e-8},{"f":28,"d":8.08e-9},{"f":29,"d":1.16e-8},{"f":30,"d":8.08e-9},{"f":32,"d":1.16e-8},{"f":34,"d":3.5e-8},{"f":36,"d":3.04e-9},{"f":38,"d":2.38e-9},{"f":40,"d":1.46e-9},{"f":42,"d":2.11e-9},{"f":44,"d":1.01e-9},{"f":46,"d":1.65e-9},{"f":48,"d":6.21e-10},{"f":50,"d":1.46e-9},{"f":52,"d":2.98e-10},{"f":54,"d":4.86e-10},{"f":56,"d":8.8e-11},{"f":58,"d":1.12e-10},{"f":60,"d":5.4e-11},{"f":62,"d":7.79e-11},{"f":64,"d":6.89e-11},{"f":66,"d":1.43e-10},{"f":68,"d":2.34e-10},{"f":70,"d":7.93e-10},{"f":72,"d":1.01e-9},{"f":74,"d":5.6e-9},{"f":76,"d":2.34e-10},{"f":78,"d":4.31e-10},{"f":80,"d":1.29e-9},{"f":82,"d":1.65e-9},{"f":84,"d":2.69e-9},{"f":86,"d":2.11e-9},{"f":88,"d":3.04e-9},{"f":90,"d":2.11e-9},{"f":92,"d":1.01e-9},{"f":94,"d":7.93e-10},{"f":96,"d":4.86e-10},{"f":98,"d":5.5e-10},{"f":100,"d":3.81e-10}]},
  "mark": {"type": "line", "clip": true},
  "encoding": {"color": {"datum": "z (controlled)", "type": "nominal"}, "strokeDash": {"datum": "z (controlled)", "type": "nominal", "legend": null}, "strokeWidth": {"datum": "z (controlled)", "type": "nominal", "legend": null}}},
 {"data": {"values": [{"f":0.01047,"f2":0.551,"d":1.05e-11,"d2":8.64e-4}]},
  "mark": {"type": "rect", "filled": false, "stroke": "#3d3d3d", "strokeWidth": 8, "strokeDash": [16, 14], "cornerRadius": 65},
  "encoding": {"x2": {"field": "f2"}, "y2": {"field": "d2"}}},
 {"data": {"values": [{"f":8.68,"f2":36.1,"d":1.16e-11,"d2":9.07e-4}]},
  "mark": {"type": "rect", "filled": false, "stroke": "#3d3d3d", "strokeWidth": 8, "strokeDash": [16, 14], "cornerRadius": 25},
  "encoding": {"x2": {"field": "f2"}, "y2": {"field": "d2"}}},
 {"data": {"values": [{"f":0.0732,"d":1.45e-12,"t":"Low frequency"},{"f":22.6,"d":1.45e-12,"t":"High frequency"}]},
  "mark": {"type": "text", "fontSize": 48, "color": "#444444", "align": "center", "baseline": "alphabetic", "clip": false},
  "encoding": {"text": {"field": "t"}}}
]
}
